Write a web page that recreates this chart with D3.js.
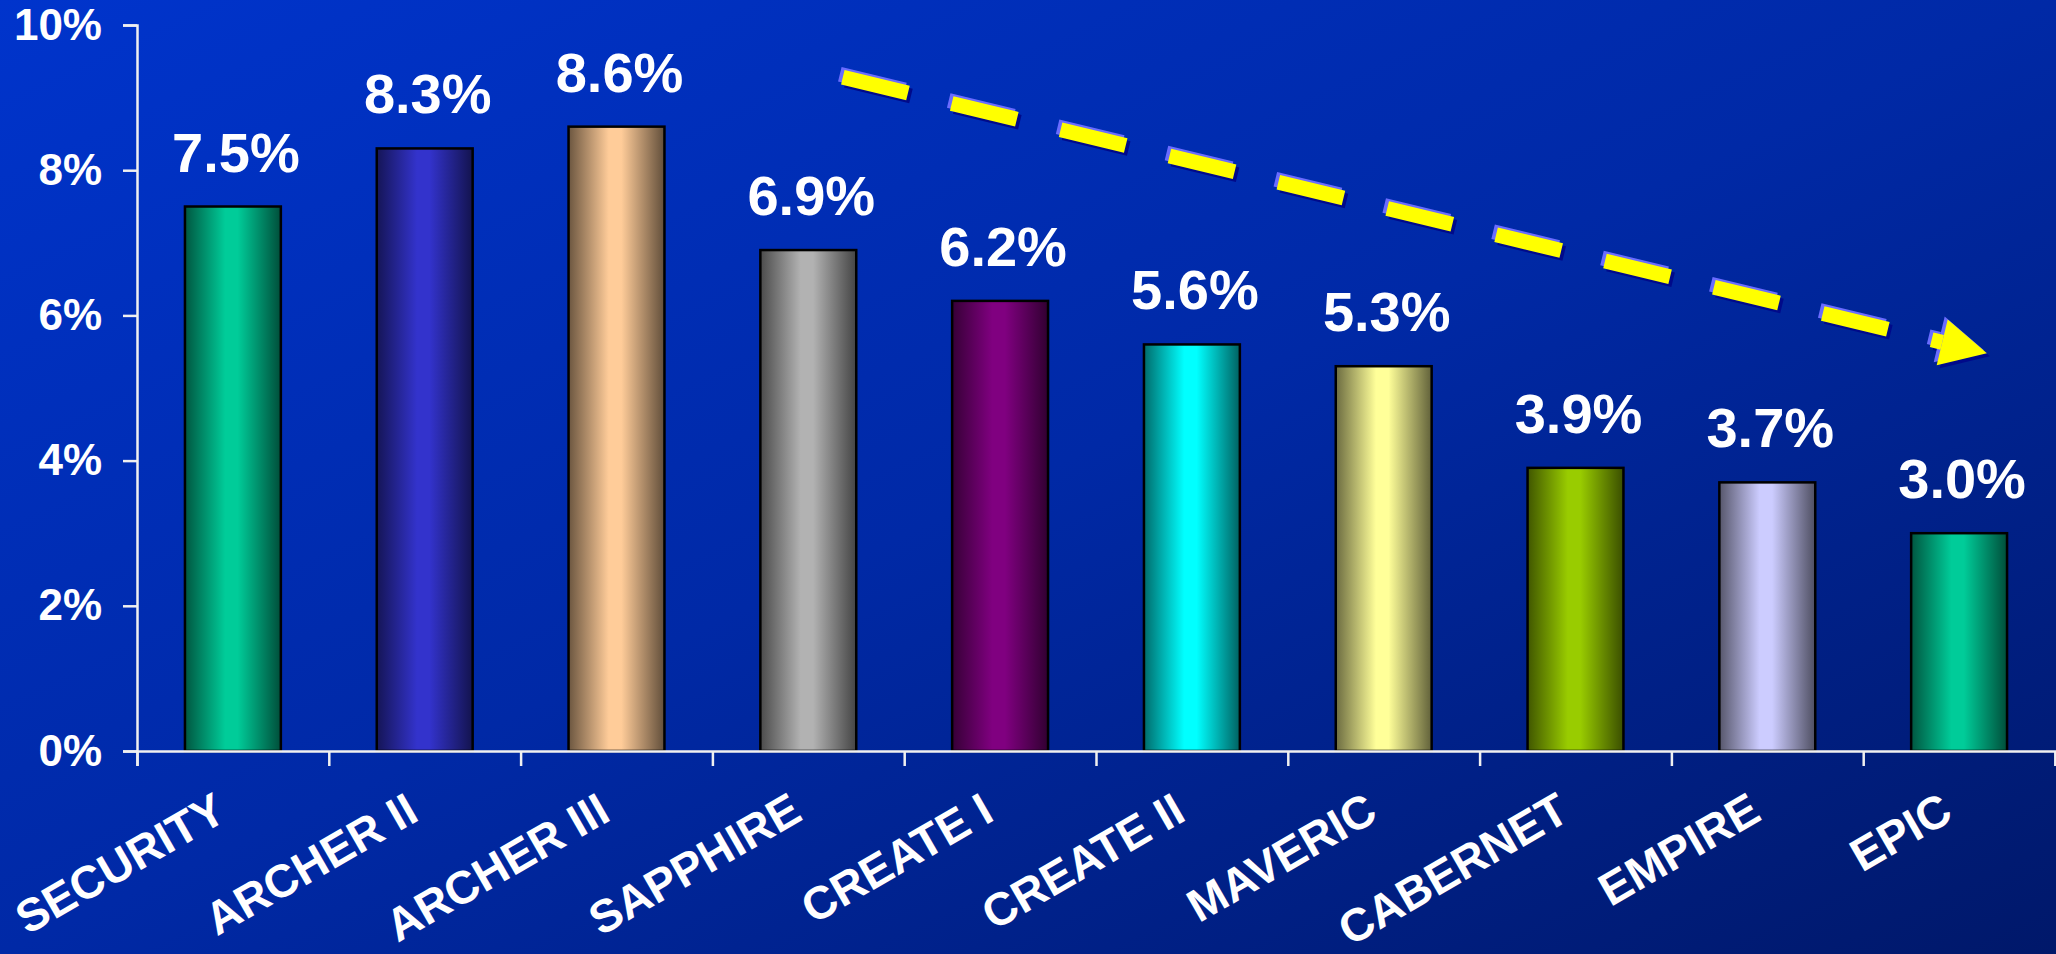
<!DOCTYPE html>
<html>
<head>
<meta charset="utf-8">
<script src="https://cdn.jsdelivr.net/npm/d3@7"></script>
<style>
  html, body { margin: 0; padding: 0; overflow: hidden; background: #00238f; }
  svg { display: block; }
  text { font-family: "Liberation Sans", Arial, sans-serif; font-weight: bold; fill: #ffffff; }
</style>
</head>
<body>
<svg id="chart" width="2056" height="954"></svg>
<script>
// Growth rate per trial (percent)
const categories = ["SECURITY", "ARCHER II", "ARCHER III", "SAPPHIRE", "CREATE I",
                    "CREATE II", "MAVERIC", "CABERNET", "EMPIRE", "EPIC"];
const values = [7.5, 8.3, 8.6, 6.9, 6.2, 5.6, 5.3, 3.9, 3.7, 3.0];
const barColors = ["#00CC99", "#3333CC", "#FFCC99", "#B2B2B2", "#800080",
                   "#00FFFF", "#FFFF99", "#99CC00", "#CCCCFF", "#00CC99"];
const yTicks = [0, 2, 4, 6, 8, 10];

const W = 2056, H = 954;
const plotLeft = 137, plotRight = 2055, plotTop = 25, plotBottom = 751;

const svg = d3.select("#chart");
const defs = svg.append("defs");

// Background: diagonal blue wash, brighter in the upper left
const bg = defs.append("linearGradient").attr("id", "bg")
  .attr("x1", 0).attr("y1", 0).attr("x2", 1).attr("y2", 1);
bg.append("stop").attr("offset", 0).attr("stop-color", "#0034cc");
bg.append("stop").attr("offset", 0.5).attr("stop-color", "#0029a6");
bg.append("stop").attr("offset", 1).attr("stop-color", "#00186a");
svg.append("rect").attr("width", W).attr("height", H).attr("fill", "url(#bg)");

const x = d3.scaleBand().domain(categories).range([plotLeft, plotRight])
  .paddingInner(0.5).paddingOuter(0.25);
const y = d3.scaleLinear().domain([0, 10]).range([plotBottom, plotTop]);

// Cylinder-like shading for each bar: dark edges, bright middle
barColors.forEach((c, i) => {
  const base = d3.rgb(c);
  const shade = k => d3.rgb(base.r * k, base.g * k, base.b * k).formatHex();
  const g = defs.append("linearGradient").attr("id", "bar" + i)
    .attr("x1", 0).attr("y1", 0).attr("x2", 1).attr("y2", 0);
  g.append("stop").attr("offset", 0).attr("stop-color", shade(0.42));
  g.append("stop").attr("offset", 0.42).attr("stop-color", shade(1));
  g.append("stop").attr("offset", 0.55).attr("stop-color", shade(1));
  g.append("stop").attr("offset", 1).attr("stop-color", shade(0.38));
});

// Bars
svg.append("g").selectAll("rect").data(values).join("rect")
  .attr("x", (d, i) => x(categories[i]))
  .attr("y", d => y(d))
  .attr("width", x.bandwidth())
  .attr("height", d => y(0) - y(d))
  .attr("fill", (d, i) => `url(#bar${i})`)
  .attr("stroke", "#000")
  .attr("stroke-width", 2.5);

// Value labels
svg.append("g").selectAll("text").data(values).join("text")
  .attr("x", (d, i) => x(categories[i]) + x.bandwidth() / 2 + 3)
  .attr("y", d => y(d) - 35)
  .attr("text-anchor", "middle")
  .attr("font-size", 56)
  .text(d => d.toFixed(1) + "%");

// Y axis
const yAxis = svg.append("g").attr("transform", `translate(${plotLeft},0)`)
  .call(d3.axisLeft(y).tickValues(yTicks).tickFormat(d => d + "%")
    .tickSize(14).tickPadding(21));
yAxis.selectAll("path, line").attr("stroke", "#f0f0f0").attr("stroke-width", 2.5);
yAxis.selectAll("text").attr("font-size", 44).attr("fill", "#fff")
  .attr("font-family", "Liberation Sans, Arial, sans-serif").attr("font-weight", "bold");

// X axis: tick marks on category boundaries
const xb = d3.scaleLinear().domain([0, categories.length]).range([plotLeft, plotRight]);
const xAxis = svg.append("g").attr("transform", `translate(0,${plotBottom})`)
  .call(d3.axisBottom(xb).tickValues(d3.range(categories.length + 1))
    .tickFormat("").tickSize(15).tickSizeOuter(15));
xAxis.selectAll("path, line").attr("stroke", "#f0f0f0").attr("stroke-width", 2.5);

// Slanted category labels
svg.append("g").selectAll("text").data(categories).join("text")
  .attr("transform", d => `translate(${x(d) + x.bandwidth() / 2 - 4},${plotBottom + 68}) rotate(-30)`)
  .attr("text-anchor", "end")
  .attr("font-size", 46)
  .text(d => d);

// Downward trend arrow, placed in band steps (x) and percent (y)
const step = x.step();
const p0 = [plotLeft + 3.68 * step, y(9.28)];
const p1 = [plotLeft + 9.645 * step, y(5.48)];
const dx = p1[0] - p0[0], dy = p1[1] - p0[1];
const len = Math.hypot(dx, dy);
const ang = Math.atan2(dy, dx) * 180 / Math.PI;
const headLen = 46, headHalf = 23.5, thick = 15;

function drawArrow(g, color) {
  g.append("line")
    .attr("x1", 0).attr("y1", 0).attr("x2", len - headLen).attr("y2", 0)
    .attr("stroke", color).attr("stroke-width", thick)
    .attr("stroke-dasharray", "67 45");
  g.append("path")
    .attr("d", d3.line()([[len, 0], [len - headLen, -headHalf], [len - headLen, headHalf]]) + "Z")
    .attr("fill", color);
}
const arrow = svg.append("g")
  .attr("transform", `translate(${p0[0]},${p0[1]}) rotate(${ang})`);
const layers = [
  { off: [3, 3], color: "#000a8a" },
  { off: [-3, -3], color: "#6a6cff" },
  { off: [0, 0], color: "#ffff00" }
];
layers.forEach(l => {
  // offsets are in screen space, so undo the rotation for them
  const r = -ang * Math.PI / 180;
  const ox = l.off[0] * Math.cos(r) - l.off[1] * Math.sin(r);
  const oy = l.off[0] * Math.sin(r) + l.off[1] * Math.cos(r);
  drawArrow(arrow.append("g").attr("transform", `translate(${ox},${oy})`), l.color);
});
</script>
</body>
</html>
